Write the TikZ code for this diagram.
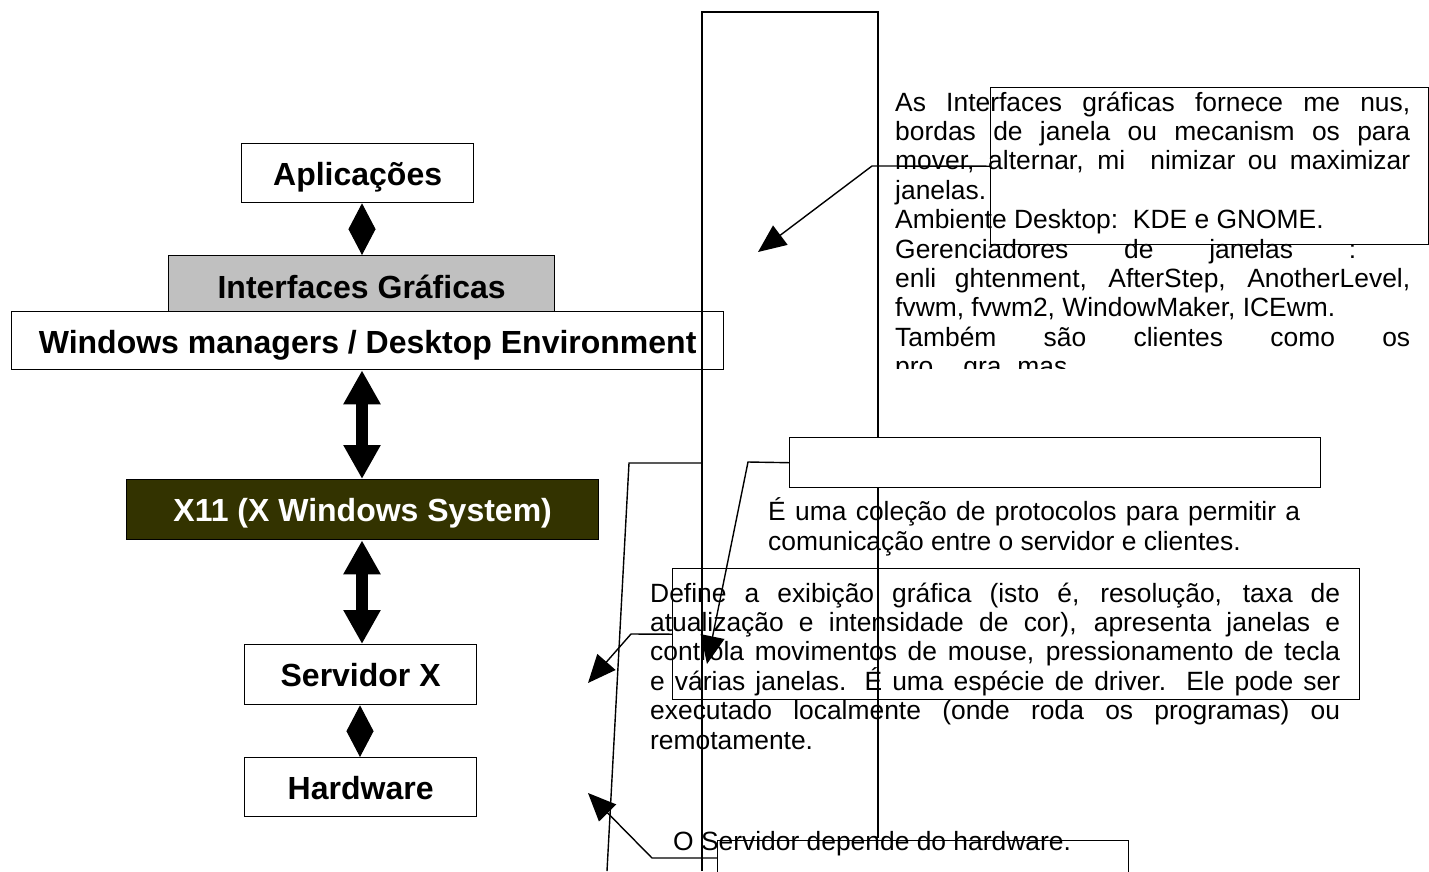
\documentclass[tikz,border=0pt]{standalone}
\usepackage{fontspec}
\setmainfont{Liberation Sans}
\usetikzlibrary{arrows.meta}
\definecolor{guigrey}{HTML}{C0C0C0}
\definecolor{xolive}{HTML}{333300}
\begin{document}
\begin{tikzpicture}[x=1pt,y=-1pt,
  layerbox/.style={draw=black,line width=1.3pt,anchor=north west,inner sep=0pt,
    text height=24pt,text depth=0pt,
    font=\fontsize{32}{36}\selectfont\bfseries},
  body/.style={inner sep=0pt,anchor=base west,font=\fontsize{26.4}{29.4}\selectfont},
  callbox/.style={draw=black,line width=1.4pt,anchor=north west,inner sep=0pt},
  callout/.style={draw=black,line width=1.4pt},
  calltip/.style={callout,-{Triangle[length=28pt,width=24pt]}},
  bigarrow/.style={line width=12pt,{Triangle[length=34pt,width=35pt]}-{Triangle[length=34pt,width=35pt]}},
  smallarrow/.style={line width=1pt,{Triangle[length=26pt,width=27pt]}-{Triangle[length=26pt,width=27pt]}}
]
\useasboundingbox (0,0) rectangle (1429,871);

% ---------- left column of layers ----------
\node[layerbox,fill=white,minimum width=232pt,minimum height=59pt] (app) at (241,143) {Aplicações};
\node[layerbox,fill=guigrey,minimum width=386pt,minimum height=57pt] (gui) at (168,255) {\raisebox{-2pt}{Interfaces Gráficas}};
\node[layerbox,fill=white,minimum width=712pt,minimum height=58pt] (wm) at (11,311) {\raisebox{-1pt}{Windows managers / Desktop Environment}};
\node[layerbox,fill=xolive,text=white,minimum width=472pt,minimum height=60pt] (x11) at (126,479) {X11 (X Windows System)};
\node[layerbox,fill=white,minimum width=232pt,minimum height=60pt] (srv) at (244,644) {Servidor X};
\node[layerbox,fill=white,minimum width=232pt,minimum height=59pt] (hw) at (244,757) {Hardware};

\coordinate (ax) at (362,0);
\coordinate (bx) at (360,0);
\draw[smallarrow] (app.south -| ax) -- (gui.north -| ax);
\draw[bigarrow] (wm.south -| ax) -- (x11.north -| ax);
\draw[bigarrow] (x11.south -| ax) -- (srv.north -| ax);
\draw[smallarrow] (srv.south -| bx) -- (hw.north -| bx);

% ---------- tall frame ----------
\coordinate (fbl) at (702,871);
\coordinate (ftl) at (702,12);
\coordinate (ftr) at (878,12);
\coordinate (fbr) at (878,838);
\draw[callout] (fbl) -- (ftl) -- (ftr) -- (fbr);

% ---------- callout boxes ----------
\node[callbox,minimum width=438pt,minimum height=157pt] (box1) at (990,87) {};
\node[callbox,fill=white,minimum width=531pt,minimum height=50pt] (box2) at (789,437) {};
\node[callbox,minimum width=687pt,minimum height=131pt] (box3) at (672,568) {};
\node[callbox,minimum width=411pt,minimum height=60pt] (box5) at (717,840) {};

% ---------- callout connectors ----------
\coordinate (k1) at (872,166);  \coordinate (tip1) at (758,252);
\coordinate (k2) at (748,462);  \coordinate (tip2) at (707,664);
\coordinate (k3) at (631,634);  \coordinate (tip3) at (588,683);
\coordinate (f4) at (702,463);  \coordinate (k4) at (629,463); \coordinate (e4) at (607,871);
\coordinate (k5) at (652,858);  \coordinate (tip5) at (588,793);
\draw[calltip] (box1.west) -- (k1) -- (tip1);
\draw[calltip] (box2.west) -- (k2) -- (tip2);
\draw[calltip] (box3.west) -- (k3) -- (tip3);
\draw[callout] (f4) -- (k4) -- (e4);
\draw[calltip] (box5.west |- k5) -- (k5) -- (tip5);

% ---------- text 1 ----------
\node[body] (t1a) at (895,111.0) {\makebox[515pt][s]{As Interfaces gráficas fornece me nus,}};
\node[body] (t1b) at (895,140.4) {\makebox[515pt][s]{bordas de janela ou mecanism os para}};
\node[body] (t1c) at (895,169.8) {\makebox[515pt][s]{mover, alternar, mi\ \ nimizar ou maximizar}};
\node[body] (t1d) at (895,199.2) {janelas.};
\node[body] (t1e) at (895,228.6) {Ambiente Desktop:\ \ KDE e GNOME.};
\node[body] (t1f) at (895,258.0) {\makebox[461pt][s]{Gerenciadores de janelas :}};
\node[body] (t1g) at (895,287.4) {\makebox[515pt][s]{enli ghtenment, AfterStep, AnotherLevel,}};
\node[body] (t1h) at (895,316.8) {fvwm, fvwm2, WindowMaker, ICEwm.};
\node[body] (t1i) at (895,346.2) {\makebox[515pt][s]{Também são clientes como os}};
\begin{scope}
\clip (880,350) rectangle (1429,368);
\node[body] (t1j) at (895,375.6) {pro\hspace{30pt}gra\hspace{16pt}mas};
\end{scope}

% ---------- text 2 ----------
\node[body] (t2a) at (768,520) {\makebox[532pt][s]{É uma coleção de protocolos para permitir a}};
\node[body] (t2b) at (768,550) {comunicação entre o servidor e clientes.};

% ---------- text 3 ----------
\node[body] (t3a) at (650,602.0) {\makebox[690pt][s]{Define a exibição gráfica (isto é, resolução, taxa de}};
\node[body] (t3b) at (650,631.4) {\makebox[690pt][s]{atualização e intensidade de cor), apresenta janelas e}};
\node[body] (t3c) at (650,660.8) {\makebox[690pt][s]{controla movimentos de mouse, pressionamento de tecla}};
\node[body] (t3d) at (650,690.2) {\makebox[690pt][s]{e várias janelas. É uma espécie de driver.\ \ Ele pode ser}};
\node[body] (t3e) at (650,719.6) {\makebox[690pt][s]{executado localmente (onde roda os programas) ou}};
\node[body] (t3f) at (650,749.0) {remotamente.};

% ---------- text 5 ----------
\node[body] (t5) at (673,850) {O Servidor depende do hardware.};
\end{tikzpicture}
\end{document}
